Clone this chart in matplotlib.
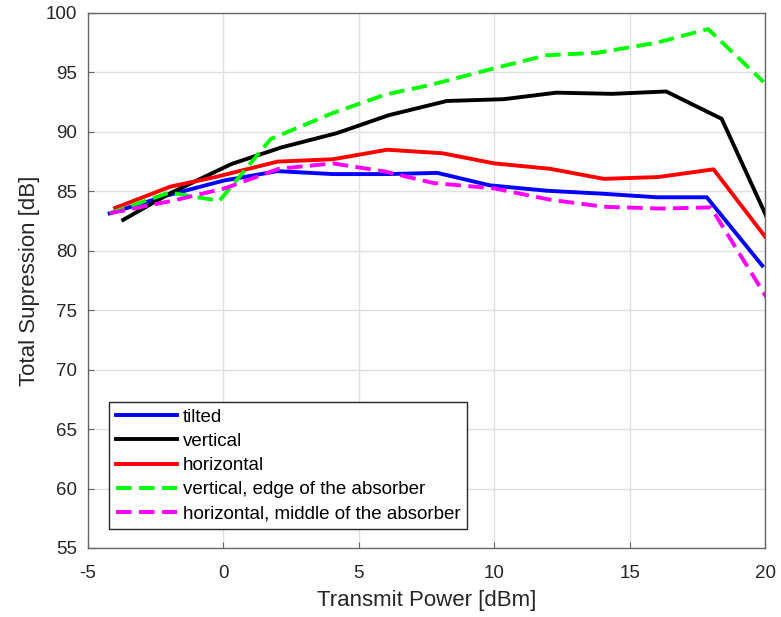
import matplotlib
matplotlib.use("Agg")
import matplotlib.pyplot as plt

plt.rcParams['font.family'] = ['Liberation Sans', 'DejaVu Sans']

# Data
x_tilted = [-4.2, -2.0, 0.0, 2.0, 4.05, 6.0, 7.9, 9.85, 11.95, 14.0, 16.0, 17.85, 19.9]
y_tilted = [83.15, 84.7, 85.9, 86.7, 86.45, 86.45, 86.55, 85.5, 85.05, 84.8, 84.5, 84.5, 78.75]

x_vertical = [-3.7, -2.0, 0.3, 2.15, 4.2, 6.1, 8.25, 10.35, 12.3, 14.35, 16.35, 18.4, 20.05]
y_vertical = [82.6, 84.8, 87.3, 88.7, 89.9, 91.4, 92.6, 92.75, 93.3, 93.2, 93.4, 91.1, 82.9]

x_horizontal = [-4.0, -1.95, -0.3, 2.0, 4.05, 6.05, 8.1, 10.0, 12.05, 14.05, 16.05, 18.1, 20.05]
y_horizontal = [83.6, 85.4, 86.2, 87.5, 87.7, 88.5, 88.2, 87.35, 86.9, 86.05, 86.2, 86.85, 81.05]

x_vert_edge = [-4.2, -2.0, -0.15, 1.75, 4.0, 6.0, 7.65, 10.0, 11.95, 13.8, 16.0, 17.9, 19.95]
y_vert_edge = [83.15, 84.9, 84.2, 89.4, 91.55, 93.15, 93.95, 95.35, 96.45, 96.65, 97.5, 98.65, 94.2]

x_horiz_mid = [-4.2, -1.8, 0.05, 2.05, 4.05, 6.0, 7.75, 10.0, 12.05, 14.05, 16.2, 18.0, 20.05]
y_horiz_mid = [83.15, 84.25, 85.25, 86.9, 87.35, 86.65, 85.7, 85.25, 84.3, 83.7, 83.55, 83.65, 76.1]

labels = ['tilted', 'vertical', 'horizontal',
          'vertical, edge of the absorber', 'horizontal, middle of the absorber']

x_ticks = [-5, 0, 5, 10, 15, 20]
y_ticks = [55, 60, 65, 70, 75, 80, 85, 90, 95, 100]

fig = plt.figure(figsize=(7.81, 6.17), dpi=100)
ax = fig.add_axes([88/781, 1-548/617, (765-88)/781, (548-13)/617])

lw = 2.8
dash = (4.0, 1.9)
ax.plot(x_tilted, y_tilted, color=(0, 0, 1), lw=lw, label=labels[0])
ax.plot(x_vertical, y_vertical, color=(0, 0, 0), lw=lw, label=labels[1])
ax.plot(x_horizontal, y_horizontal, color=(1, 0, 0), lw=lw, label=labels[2])
ax.plot(x_vert_edge, y_vert_edge, color=(0, 1, 0), lw=lw, linestyle=(0, dash), label=labels[3])
ax.plot(x_horiz_mid, y_horiz_mid, color=(1, 0, 1), lw=lw, linestyle=(0, dash), label=labels[4])

ax.set_xlim(-5, 20)
ax.set_ylim(55, 100)
ax.set_xticks(x_ticks)
ax.set_yticks(y_ticks)
ax.set_xticklabels([str(t) for t in x_ticks])
ax.grid(True, color=(0.88, 0.88, 0.88), lw=1.0)
ax.set_axisbelow(True)
for s in ax.spines.values():
    s.set_color((0.4, 0.4, 0.4))
    s.set_linewidth(1.0)
ax.tick_params(direction='in', length=4, color=(0.4, 0.4, 0.4),
               labelcolor=(0.15, 0.15, 0.15), labelsize=13.5, top=False, right=False)
ax.tick_params(axis='x', pad=12)
ax.tick_params(axis='y', pad=8)
ax.set_xlabel('Transmit Power [dBm]', fontsize=16, color=(0.15, 0.15, 0.15), labelpad=6)
ax.set_ylabel('Total Supression [dB]', fontsize=16, color=(0.15, 0.15, 0.15), labelpad=4)

leg = ax.legend(loc='upper left', bbox_to_anchor=((109-88)/677, (548-402)/535), fontsize=13.5,
                handlelength=3.3, handletextpad=0.3, labelspacing=0.38,
                borderpad=0.35, borderaxespad=0.0, fancybox=False, framealpha=1)
leg.get_frame().set_edgecolor((0.15, 0.15, 0.15))
leg.get_frame().set_linewidth(1.0)

fig.savefig('out.png', dpi=100, facecolor='white')
